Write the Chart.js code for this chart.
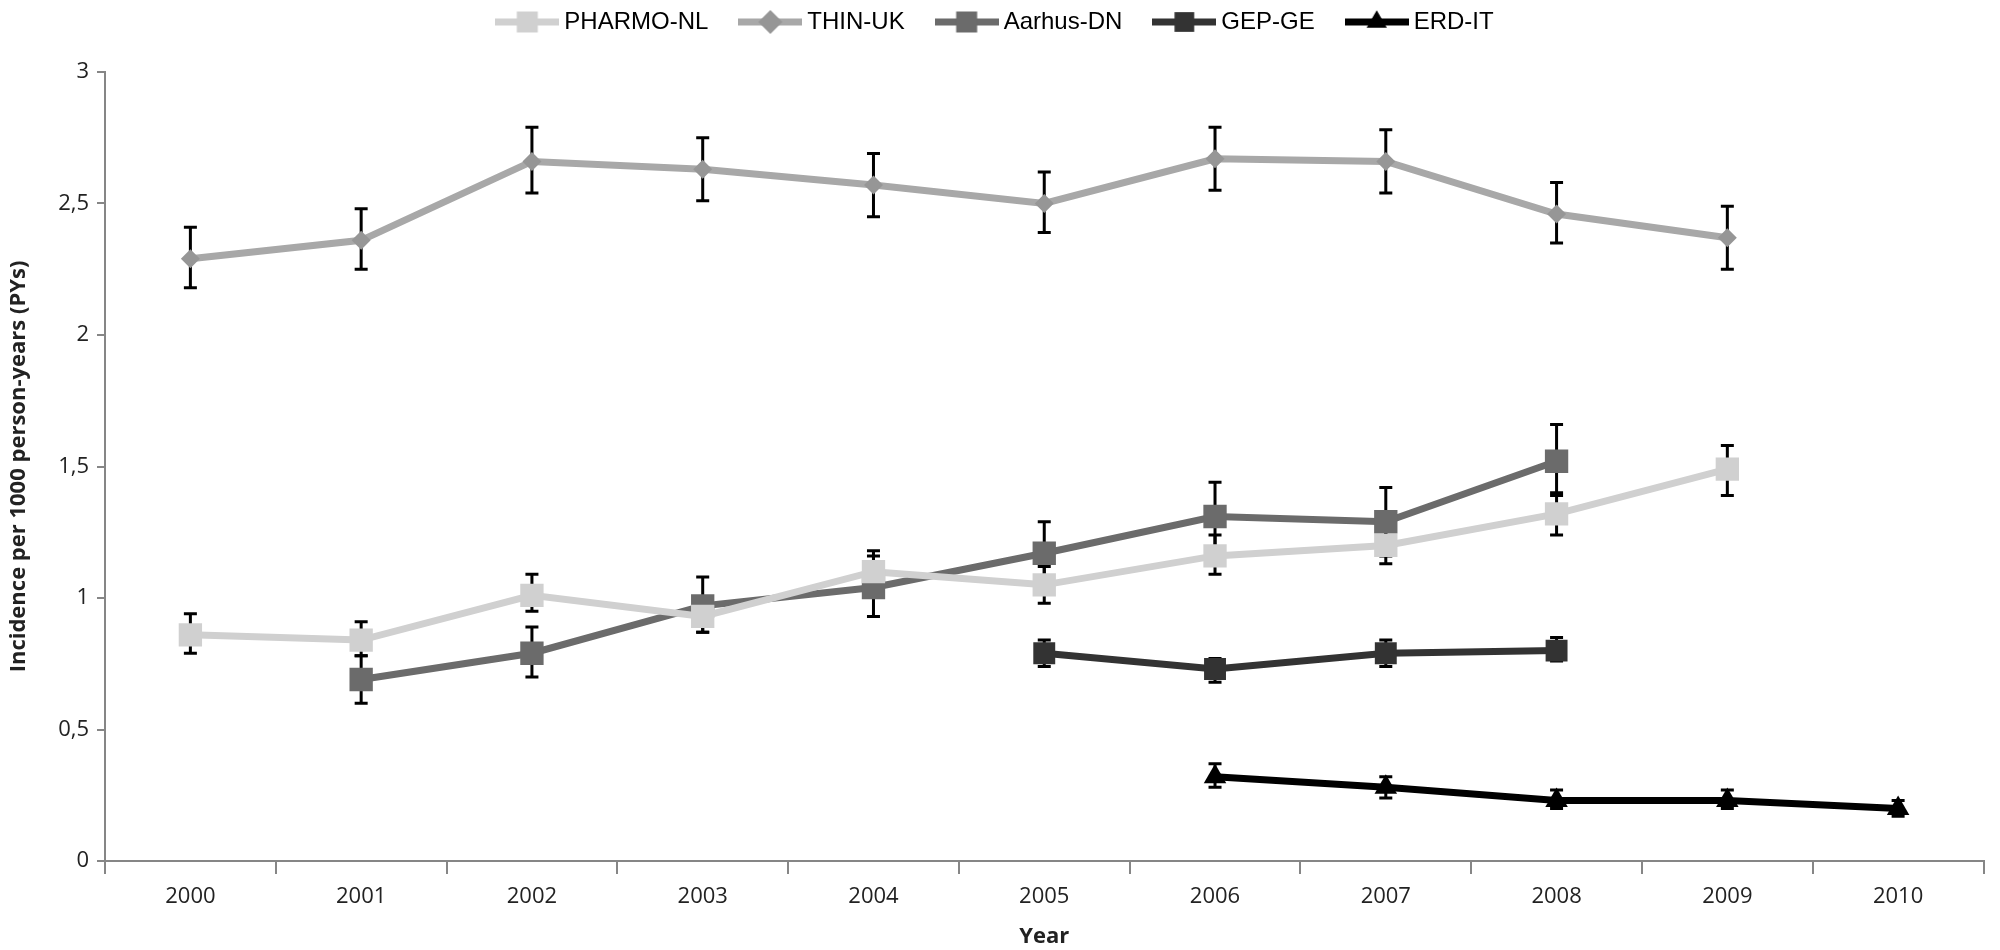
<!DOCTYPE html>
<html>
<head>
<meta charset="utf-8">
<script src="https://cdn.jsdelivr.net/npm/chart.js@4.4.1/dist/chart.umd.min.js"></script>
<style>
  html, body { margin: 0; padding: 0; background: #fff; }
  #wrap { width: 2000px; height: 950px; }
</style>
</head>
<body>
<div id="wrap"><canvas id="chart"></canvas></div>
<script>
// Years on the x axis
const years = ["2000", "2001", "2002", "2003", "2004", "2005", "2006", "2007", "2008", "2009", "2010"];

// Incidence per 1000 PYs, with lower / upper CI
const pharmo = [0.86, 0.84, 1.01, 0.93, 1.10, 1.05, 1.16, 1.20, 1.32, 1.49, null];
const pharmoLo = [0.79, 0.78, 0.95, 0.87, 1.03, 0.98, 1.09, 1.13, 1.24, 1.39, null];
const pharmoHi = [0.94, 0.91, 1.09, 1.00, 1.18, 1.12, 1.24, 1.27, 1.40, 1.58, null];

const thin = [2.29, 2.36, 2.66, 2.63, 2.57, 2.50, 2.67, 2.66, 2.46, 2.37, null];
const thinLo = [2.18, 2.25, 2.54, 2.51, 2.45, 2.39, 2.55, 2.54, 2.35, 2.25, null];
const thinHi = [2.41, 2.48, 2.79, 2.75, 2.69, 2.62, 2.79, 2.78, 2.58, 2.49, null];

const aarhus = [null, 0.69, 0.79, 0.97, 1.04, 1.17, 1.31, 1.29, 1.52, null, null];
const aarhusLo = [null, 0.60, 0.70, 0.87, 0.93, 1.05, 1.18, 1.16, 1.39, null, null];
const aarhusHi = [null, 0.78, 0.89, 1.08, 1.16, 1.29, 1.44, 1.42, 1.66, null, null];

const gep = [null, null, null, null, null, 0.79, 0.73, 0.79, 0.80, null, null];
const gepLo = [null, null, null, null, null, 0.74, 0.68, 0.74, 0.76, null, null];
const gepHi = [null, null, null, null, null, 0.84, 0.77, 0.84, 0.85, null, null];

const erd = [null, null, null, null, null, null, 0.32, 0.28, 0.23, 0.23, 0.20];
const erdLo = [null, null, null, null, null, null, 0.28, 0.24, 0.20, 0.20, 0.17];
const erdHi = [null, null, null, null, null, null, 0.37, 0.32, 0.27, 0.27, 0.23];

const yTicks = [0, 0.5, 1, 1.5, 2, 2.5, 3];

function series(label, values, lo, hi, line, fill, style, radius) {
  return {
    label: label,
    data: values,
    errLo: lo,
    errHi: hi,
    borderColor: line,
    backgroundColor: fill,
    pointBackgroundColor: fill,
    pointBorderWidth: 0,
    pointStyle: style,
    pointRadius: radius,
    pointHoverRadius: radius,
    borderWidth: 7,
    tension: 0,
    spanGaps: false,
  };
}

const datasets = [
  series("PHARMO-NL", pharmo, pharmoLo, pharmoHi, "#d0d0d0", "#d0d0d0", "rect", 16.5),
  series("THIN-UK", thin, thinLo, thinHi, "#a8a8a8", "#969696", "rectRot", 9.5),
  series("Aarhus-DN", aarhus, aarhusLo, aarhusHi, "#6b6b6b", "#6b6b6b", "rect", 16.5),
  series("GEP-GE", gep, gepLo, gepHi, "#333333", "#333333", "rect", 15.5),
  series("ERD-IT", erd, erdLo, erdHi, "#000000", "#000000", "triangle", 13),
];

// small picture for the legend: line with the marker in the middle
function legendIcon(ds) {
  const c = document.createElement("canvas");
  c.width = 64;
  c.height = 32;
  const g = c.getContext("2d");
  g.strokeStyle = ds.borderColor;
  g.lineWidth = 7;
  g.beginPath();
  g.moveTo(0, 16);
  g.lineTo(64, 16);
  g.stroke();
  g.fillStyle = ds.pointBackgroundColor;
  const r = ds.pointStyle === "rectRot" ? 12 : ds.pointRadius * 0.9;
  Chart.helpers.drawPoint(g, { pointStyle: ds.pointStyle, radius: r, rotation: 0, borderWidth: 0 }, 32, 16);
  return c;
}

// error bars, positioned with the chart scales
const errorBars = {
  id: "errorBars",
  beforeDatasetsDraw(chart) {
    const ctx = chart.ctx;
    const xs = chart.scales.x;
    const ys = chart.scales.y;
    ctx.save();
    ctx.strokeStyle = "#000";
    ctx.lineWidth = 3;
    chart.data.datasets.forEach((ds) => {
      ds.data.forEach((v, i) => {
        if (v === null) return;
        const x = xs.getPixelForValue(i);
        const yLo = ys.getPixelForValue(ds.errLo[i]);
        const yHi = ys.getPixelForValue(ds.errHi[i]);
        ctx.beginPath();
        ctx.moveTo(x, yLo);
        ctx.lineTo(x, yHi);
        ctx.moveTo(x - 6.5, yLo);
        ctx.lineTo(x + 6.5, yLo);
        ctx.moveTo(x - 6.5, yHi);
        ctx.lineTo(x + 6.5, yHi);
        ctx.stroke();
      });
    });
    ctx.restore();
  },
};

// wider gaps between legend items, legend text kept near the top edge
const LEGEND_PAD = 37;
const legendSpace = {
  id: "legendSpace",
  afterInit(chart) {
    const legend = chart.legend;
    const fit = legend.fit;
    legend.fit = function () {
      fit.call(this);
      this.height -= 1;
    };
  },
  afterLayout(chart) {
    chart.legend.top -= 29;
  },
};

const tickFont = { family: "Open Sans", size: 22 };
const titleFont = { family: "Open Sans", size: 22, weight: "bold" };

new Chart(document.getElementById("chart"), {
  type: "line",
  data: { labels: years, datasets: datasets },
  plugins: [errorBars, legendSpace],
  options: {
    responsive: true,
    maintainAspectRatio: false,
    animation: false,
    layout: { padding: { left: 0, right: 4, top: 2, bottom: 0 } },
    plugins: {
      legend: {
        display: true,
        position: "top",
        labels: {
          usePointStyle: true,
          pointStyleWidth: 50,
          boxHeight: 24,
          padding: LEGEND_PAD,
          color: "#000",
          font: { family: "Liberation Sans", size: 24 },
          generateLabels(chart) {
            return chart.data.datasets.map((ds, i) => ({
              text: ds.label,
              pointStyle: legendIcon(ds),
              fillStyle: ds.borderColor,
              strokeStyle: ds.borderColor,
              lineWidth: 0,
              fontColor: "#000",
              datasetIndex: i,
              hidden: false,
            }));
          },
        },
      },
      tooltip: { enabled: false },
    },
    scales: {
      x: {
        type: "category",
        offset: true,
        grid: { display: true, offset: true, drawOnChartArea: false, tickLength: 13, color: "#868686", lineWidth: 2 },
        border: { color: "#868686", width: 2 },
        ticks: { font: tickFont, color: "#222", padding: 10, maxRotation: 0 },
        title: { display: true, text: "Year", font: titleFont, color: "#222", padding: { top: 0, bottom: 0 } },
        afterFit(scale) { scale.height = 89; },
      },
      y: {
        min: 0,
        max: 3,
        afterBuildTicks(scale) { scale.ticks = yTicks.map((v) => ({ value: v })); },
        grid: { display: true, drawOnChartArea: false, tickLength: 8, color: "#868686", lineWidth: 2 },
        border: { color: "#868686", width: 2 },
        ticks: {
          font: tickFont,
          color: "#222",
          padding: 8,
          callback: (v) => String(v).replace(".", ","),
        },
        title: { display: true, text: "Incidence per 1000 person-years (PYs)", font: titleFont, color: "#222", padding: { top: 6, bottom: 4 } },
        afterFit(scale) { scale.width = 105; },
      },
    },
  },
});
</script>
</body>
</html>
